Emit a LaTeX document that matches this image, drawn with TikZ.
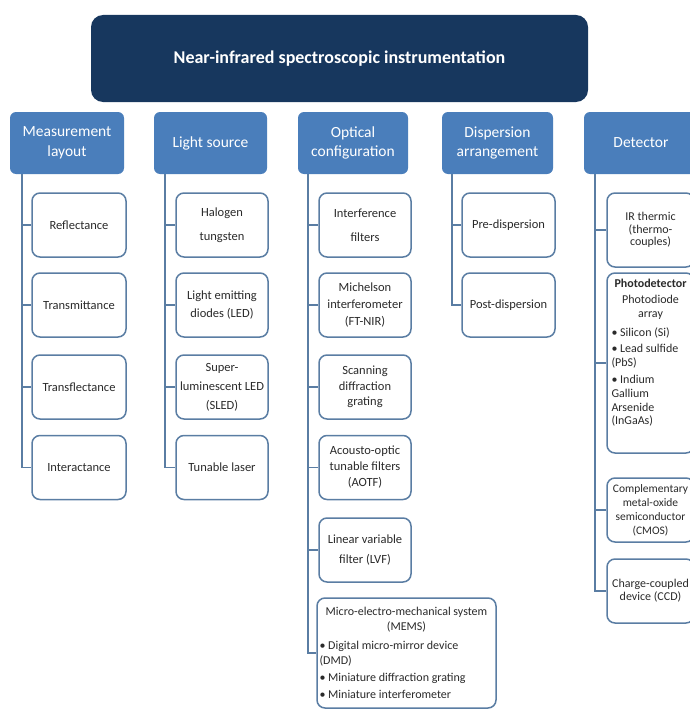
\documentclass[tikz,border=0pt]{standalone}
\usepackage{fontspec}
\setmainfont{Carlito}
\definecolor{navy}{HTML}{17375E}
\definecolor{hblue}{HTML}{4A7EBB}
\definecolor{bord}{HTML}{5A7DA3}
\definecolor{txt}{HTML}{2A2A2A}
\begin{document}
\begin{tikzpicture}[x=1pt,y=-1pt,
  titlebox/.style={fill=navy, rounded corners=12pt, text=white, font=\bfseries\fontsize{18}{21}\selectfont, inner sep=0pt},
  head/.style={fill=hblue, rounded corners=6pt, text=white, align=center, font=\fontsize{15.5}{19.5}\selectfont, inner sep=0pt, minimum height=62pt},
  cbox/.style={draw=bord, line width=1.5pt, rounded corners=8pt, fill=white, align=center, text=txt, font=\fontsize{12.5}{17}\selectfont, inner sep=0pt, minimum height=64pt},
  tight/.style={font=\fontsize{12.5}{14}\selectfont},
  loose/.style={font=\fontsize{12.5}{24}\selectfont},
  conn/.style={draw=bord, line width=1.5pt}]
\useasboundingbox (0,0) rectangle (690,709);
\clip (0,0) rectangle (690,709);

% title
\node[titlebox, minimum width=497pt, minimum height=87pt] (T) at (339.5,58.5) {Near-infrared spectroscopic instrumentation};

% headers
\node[head, minimum width=114pt] (H1) at (67,143) {Measurement\\layout};
\node[head, minimum width=113pt] (H2) at (210.5,143) {Light source};
\node[head, minimum width=110pt] (H3) at (353,143) {Optical\\configuration};
\node[head, minimum width=111pt] (H4) at (497.5,143) {Dispersion\\arrangement};
\node[head, minimum width=114pt] (H5) at (641,143) {Detector};

% column 1
\node[cbox, minimum width=94pt] (A1) at (79,225) {Reflectance};
\node[cbox, minimum width=94pt] (A2) at (79,305) {Transmittance};
\node[cbox, minimum width=94pt] (A3) at (79,387) {Transflectance};
\node[cbox, minimum width=94pt] (A4) at (79,467.5) {Interactance};

% column 2
\node[cbox, loose, minimum width=92pt] (B1) at (222,225) {Halogen\\tungsten};
\node[cbox, font=\fontsize{12.5}{18}\selectfont, minimum width=92pt] (B2) at (222,305) {Light emitting\\diodes (LED)};
\node[cbox, font=\fontsize{12.5}{19}\selectfont, minimum width=92pt] (B3) at (222,387) {Super-\\luminescent LED\\(SLED)};
\node[cbox, minimum width=92pt] (B4) at (222,467.5) {Tunable laser};

% column 3
\node[cbox, loose, minimum width=92pt] (C1) at (365,225) {Interference\\filters};
\node[cbox, minimum width=92pt] (C2) at (365,305) {Michelson\\interferometer\\(FT-NIR)};
\node[cbox, font=\fontsize{12.5}{15.5}\selectfont, minimum width=92pt] (C3) at (365,387) {Scanning\\diffraction\\grating};
\node[cbox, font=\fontsize{12.5}{16}\selectfont, minimum width=92pt] (C4) at (365,467.5) {Acousto-optic\\tunable filters\\(AOTF)};
\node[cbox, font=\fontsize{12.5}{20}\selectfont, minimum width=92pt] (C5) at (365,550) {Linear variable\\filter (LVF)};
\node[cbox, minimum width=179pt, minimum height=110pt, font=\fontsize{12}{15}\selectfont] (C6) at (406.5,653)
  {\begin{minipage}{174pt}\centering Micro-electro-mechanical system\\(MEMS)\par\vspace{4pt}\raggedright
   • Digital micro-mirror device\\(DMD)\par\vspace{2pt}
   • Miniature diffraction grating\par\vspace{2pt}
   • Miniature interferometer\end{minipage}};

% column 4
\node[cbox, minimum width=93pt] (D1) at (508.5,225) {Pre-dispersion};
\node[cbox, minimum width=93pt] (D2) at (508.5,305) {Post-dispersion};

% column 5
\node[cbox, font=\fontsize{12}{12.5}\selectfont, minimum width=87pt, minimum height=74pt] (E1) at (650.5,230) {IR thermic\\(thermo-\\couples)};
\node[cbox, minimum width=87pt, minimum height=180pt, font=\fontsize{12}{13.8}\selectfont] (E2) at (650.5,363)
  {\begin{minipage}{78pt}\centering\textbf{Photodetector}\par\vspace{2pt}Photodiode\\array\par\vspace{5pt}\raggedright
   • Silicon (Si)\par\vspace{3pt}
   • Lead sulfide\\(PbS)\par\vspace{3pt}
   • Indium\\Gallium\\Arsenide\\(InGaAs)\par\vspace{20pt}\end{minipage}};
\node[cbox, font=\fontsize{11.5}{14}\selectfont, minimum width=87pt] (E3) at (650.5,510) {Complementary\\metal-oxide\\semiconductor\\(CMOS)};
\node[cbox, font=\fontsize{12}{13}\selectfont, minimum width=87pt] (E4) at (650.5,591) {Charge-coupled\\device (CCD)};

% trunk anchor points
\coordinate (t1) at (22,174);
\coordinate (t2) at (165,174);
\coordinate (t3) at (308,174);
\coordinate (t4) at (452,174);
\coordinate (t5) at (595,174);

% connectors
\foreach \c in {A1,A2,A3,A4} \draw[conn] (t1) |- (\c.west);
\foreach \c in {B1,B2,B3,B4} \draw[conn] (t2) |- (\c.west);
\foreach \c in {C1,C2,C3,C4,C5,C6} \draw[conn] (t3) |- (\c.west);
\foreach \c in {D1,D2} \draw[conn] (t4) |- (\c.west);
\foreach \c in {E1,E2,E3,E4} \draw[conn] (t5) |- (\c.west);
\end{tikzpicture}
\end{document}
